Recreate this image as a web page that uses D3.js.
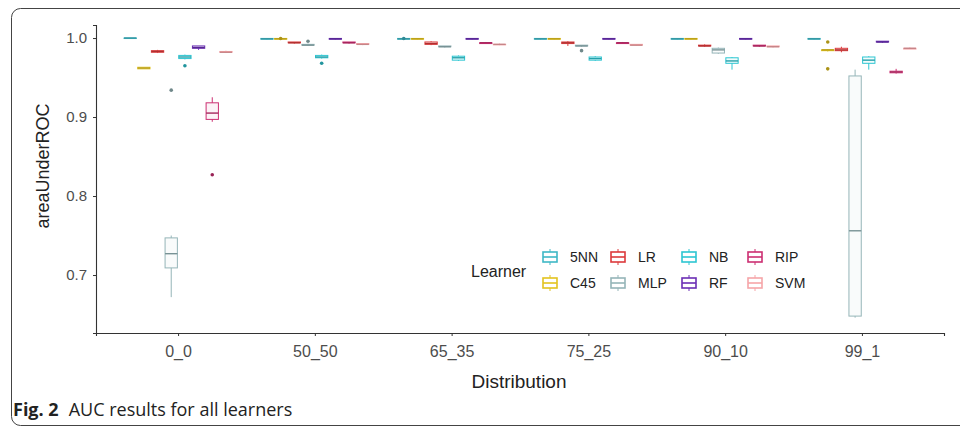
<!DOCTYPE html>
<html lang="en">
<head>
  <meta charset="UTF-8" />
  <title>AUC results for all learners</title>
  <script src="https://d3js.org/d3.v7.min.js"></script>
  <style>
    body {
      margin: 0;
      background: white;
      font-family: "Liberation Sans", Arial, sans-serif;
    }
    svg { display: block; }
  </style>
</head>
<body>

<svg width="960" height="429"></svg>

<script>
  const distributions = ["0_0", "50_50", "65_35", "75_25", "90_10", "99_1"];
  const learners = ["5NN", "C45", "LR", "MLP", "NB", "RF", "RIP", "SVM"];
  const yTicks = [0.7, 0.8, 0.9, 1.0];

  // [lower whisker, q1, median, q3, upper whisker] per distribution
  const nn5 = [[0.999, 0.9995, 1.0, 1.0, 1.0], [0.998, 0.9985, 0.999, 0.9995, 1.0], [0.998, 0.9985, 0.999, 0.9995, 1.0],
               [0.998, 0.9985, 0.999, 0.9995, 1.0], [0.998, 0.9985, 0.999, 0.9995, 1.0], [0.998, 0.9985, 0.999, 0.9995, 1.0]];
  const c45 = [[0.961, 0.961, 0.962, 0.963, 0.963], [0.998, 0.9985, 0.999, 0.9995, 1.0], [0.998, 0.9985, 0.999, 0.9995, 1.0],
               [0.998, 0.9985, 0.999, 0.9995, 1.0], [0.998, 0.9985, 0.999, 0.9995, 1.0], [0.983, 0.984, 0.985, 0.985, 0.986]];
  const lr = [[0.981, 0.982, 0.983, 0.984, 0.985], [0.993, 0.994, 0.994, 0.995, 0.995], [0.991, 0.992, 0.993, 0.995, 0.996],
              [0.990, 0.993, 0.994, 0.995, 0.996], [0.989, 0.990, 0.990, 0.991, 0.992], [0.982, 0.984, 0.985, 0.987, 0.989]];
  const mlp = [[0.672, 0.709, 0.727, 0.747, 0.750], [0.990, 0.991, 0.991, 0.992, 0.993], [0.988, 0.989, 0.989, 0.990, 0.990],
               [0.989, 0.990, 0.990, 0.991, 0.991], [0.980, 0.981, 0.985, 0.987, 0.988], [0.646, 0.648, 0.756, 0.952, 0.960]];
  const nb = [[0.973, 0.974, 0.976, 0.978, 0.979], [0.974, 0.975, 0.976, 0.978, 0.979], [0.971, 0.972, 0.975, 0.977, 0.978],
              [0.971, 0.972, 0.974, 0.976, 0.977], [0.960, 0.968, 0.971, 0.975, 0.976], [0.960, 0.968, 0.972, 0.976, 0.977]];
  const rf = [[0.985, 0.987, 0.988, 0.990, 0.990], [0.998, 0.9985, 0.999, 0.9995, 1.0], [0.998, 0.9985, 0.999, 0.9995, 1.0],
              [0.998, 0.9985, 0.999, 0.9995, 1.0], [0.998, 0.9985, 0.999, 0.9995, 1.0], [0.994, 0.995, 0.995, 0.996, 0.996]];
  const rip = [[0.894, 0.897, 0.905, 0.918, 0.925], [0.993, 0.994, 0.994, 0.995, 0.995], [0.993, 0.993, 0.994, 0.994, 0.995],
               [0.993, 0.993, 0.994, 0.994, 0.995], [0.989, 0.990, 0.990, 0.991, 0.991], [0.955, 0.956, 0.957, 0.958, 0.961]];
  const svmStats = [[0.981, 0.982, 0.982, 0.983, 0.984], [0.991, 0.992, 0.992, 0.993, 0.993], [0.991, 0.992, 0.992, 0.992, 0.993],
                    [0.990, 0.991, 0.991, 0.992, 0.992], [0.988, 0.989, 0.989, 0.990, 0.990], [0.986, 0.986, 0.987, 0.987, 0.988]];

  // outliers: [distribution, learner, value]
  const outliers = [
    ["0_0", "MLP", 0.934], ["0_0", "NB", 0.965], ["0_0", "RIP", 0.827],
    ["50_50", "C45", 0.9995], ["50_50", "MLP", 0.996], ["50_50", "NB", 0.968],
    ["65_35", "5NN", 0.9995],
    ["75_25", "MLP", 0.984],
    ["99_1", "C45", 0.995], ["99_1", "C45", 0.961]
  ];

  const colors = ["#3fb8c6", "#e3c31f", "#dc3a3c", "#95b5b8", "#2dc6d2", "#6b2fb5", "#cc2f72", "#f6a5a8"];
  const statsByLearner = [nn5, c45, lr, mlp, nb, rf, rip, svmStats];

  const svg = d3.select("svg");
  const color = d3.scaleOrdinal().domain(learners).range(colors);

  // outer panel frame
  svg.append("rect")
    .attr("x", 11.5).attr("y", 8.5)
    .attr("width", 970).attr("height", 417)
    .attr("rx", 9)
    .attr("fill", "none")
    .attr("stroke", "#444")
    .attr("stroke-width", 1);

  const x = d3.scalePoint()
    .domain(distributions)
    .range([96, 944])
    .padding(0.6);

  const y = d3.scaleLinear()
    .domain([0.6266, 1.0165])
    .range([333, 25]);

  const dodge = d3.scaleBand()
    .domain(learners)
    .range([-0.4 * x.step(), 0.4 * x.step()]);
  const boxW = dodge.bandwidth() * 0.9;

  // axes
  const xAxis = svg.append("g")
    .attr("transform", "translate(0,333)")
    .call(d3.axisBottom(x).tickSize(3).tickPadding(10));
  const yAxis = svg.append("g")
    .attr("transform", "translate(96,0)")
    .call(d3.axisLeft(y).tickValues(yTicks).tickFormat(d3.format(".1f")).tickSize(3).tickPadding(6));

  [xAxis, yAxis].forEach(a => {
    a.select(".domain").attr("stroke", "#333").attr("stroke-width", 1.1);
    a.selectAll(".tick line").attr("stroke", "#333");
    a.selectAll(".tick text")
      .attr("fill", "#4d4d4d")
      .style("font-family", "'Liberation Sans', Arial, sans-serif")
      .style("font-size", "15px");
  });
  xAxis.selectAll(".tick text").style("font-size", "16px");

  svg.append("text")
    .attr("x", 519).attr("y", 388)
    .attr("text-anchor", "middle")
    .attr("fill", "#222")
    .style("font-size", "19px")
    .text("Distribution");

  svg.append("text")
    .attr("transform", "translate(49,166) rotate(-90)")
    .attr("text-anchor", "middle")
    .attr("fill", "#222")
    .style("font-size", "18px")
    .text("areaUnderROC");

  // boxes
  const boxes = [];
  learners.forEach((l, li) => {
    statsByLearner[li].forEach((s, di) => {
      boxes.push({ learner: l, dist: distributions[di], s: s });
    });
  });

  const bg = svg.append("g");
  const box = bg.selectAll("g.box")
    .data(boxes)
    .enter()
    .append("g")
    .attr("class", "box")
    .attr("transform", d => `translate(${x(d.dist) + dodge(d.learner) + dodge.bandwidth() / 2},0)`);

  box.append("line")
    .attr("y1", d => y(d.s[0])).attr("y2", d => y(d.s[1]))
    .attr("stroke", d => color(d.learner));
  box.append("line")
    .attr("y1", d => y(d.s[3])).attr("y2", d => y(d.s[4]))
    .attr("stroke", d => color(d.learner));
  box.append("rect")
    .attr("x", -boxW / 2)
    .attr("width", boxW)
    .attr("y", d => y(d.s[3]))
    .attr("height", d => Math.max(y(d.s[1]) - y(d.s[3]), 0.5))
    .attr("fill", d => color(d.learner))
    .attr("fill-opacity", 0.06)
    .attr("stroke", d => color(d.learner))
    .attr("stroke-width", 1);
  box.append("line")
    .attr("x1", -boxW / 2).attr("x2", boxW / 2)
    .attr("y1", d => y(d.s[2])).attr("y2", d => y(d.s[2]))
    .attr("stroke", d => d3.color(color(d.learner)).darker(0.6))
    .attr("stroke-width", 1.4);

  bg.selectAll("circle.out")
    .data(outliers)
    .enter()
    .append("circle")
    .attr("class", "out")
    .attr("cx", d => x(d[0]) + dodge(d[1]) + dodge.bandwidth() / 2)
    .attr("cy", d => y(d[2]))
    .attr("r", 1.8)
    .attr("fill", d => d3.color(color(d[1])).darker(0.8));

  // legend
  const legendCols = [543, 611, 682, 748];
  const legendRows = [257, 283];
  svg.append("text")
    .attr("x", 471).attr("y", 277)
    .attr("fill", "#222")
    .style("font-size", "16px")
    .text("Learner");

  const key = svg.selectAll("g.key")
    .data(learners)
    .enter()
    .append("g")
    .attr("class", "key")
    .attr("transform", (d, i) => `translate(${legendCols[Math.floor(i / 2)]},${legendRows[i % 2]})`);

  key.append("line")
    .attr("x1", 7).attr("x2", 7).attr("y1", -8).attr("y2", 8)
    .attr("stroke", d => color(d));
  key.append("rect")
    .attr("x", 0).attr("y", -5)
    .attr("width", 14).attr("height", 10)
    .attr("fill", "white")
    .attr("stroke", d => color(d))
    .attr("stroke-width", 1.6);
  key.append("line")
    .attr("x1", 0).attr("x2", 14).attr("y1", 0).attr("y2", 0)
    .attr("stroke", d => color(d))
    .attr("stroke-width", 1.6);
  key.append("text")
    .attr("x", 27).attr("y", 5)
    .attr("fill", "#222")
    .style("font-size", "14px")
    .text(d => d);

  // caption
  const cap = svg.append("text")
    .attr("x", 13).attr("y", 416)
    .attr("fill", "#222")
    .style("font-family", "'Liberation Sans Narrow', 'Open Sans', sans-serif")
    .style("font-size", "18px");
  cap.append("tspan").attr("font-weight", "bold").text("Fig. 2");
  cap.append("tspan").attr("dx", 10).text("AUC results for all learners");
</script>

</body>
</html>
